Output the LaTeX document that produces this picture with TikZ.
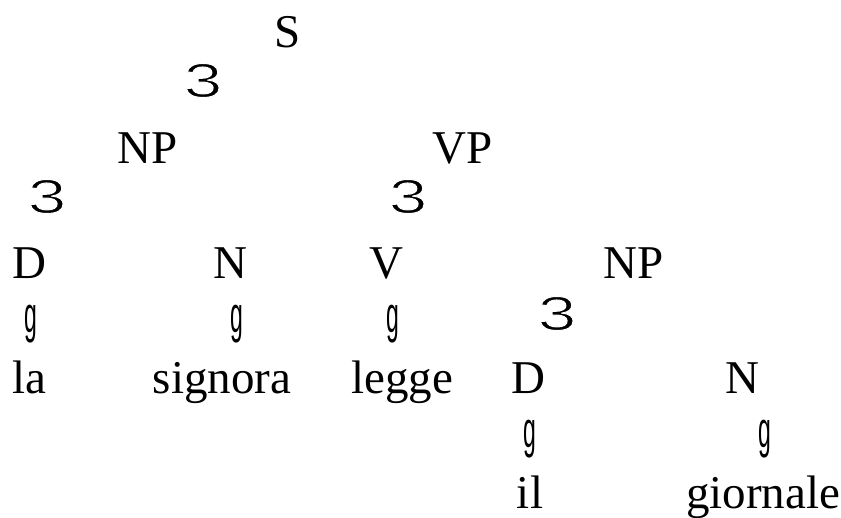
\documentclass[tikz,border=0pt]{standalone}
\usepackage{fontspec}
\setmainfont{Liberation Serif}
\newfontfamily\brfont{Liberation Sans}
\newfontfamily\vlfont{Liberation Sans}
\newcommand\thinthree{\special{pdf:literal direct 2 Tr 1 1 1 RG 1.0 w}3\special{pdf:literal direct 0 Tr 0 G}}
\begin{document}
\begin{tikzpicture}[x=1pt,y=-1pt,
  lbl/.style={anchor=base,inner sep=0pt,font=\fontsize{47}{47}\selectfont},
  br/.style={anchor=base,inner sep=0pt,font=\brfont\fontsize{48}{48}\selectfont},
  vl/.style={anchor=base,inner sep=0pt,font=\vlfont\fontsize{51}{51}\selectfont}]
\useasboundingbox (0,0) rectangle (841,517);
% row 1
\node[lbl] (S) at (288,47) {S};
\node[br] (b1) at (203,97) {\scalebox{1.45}[1]{\thinthree}};
% row 2
\node[lbl] (NP) at (148,163) {NP};
\node[lbl] (VP) at (463,163) {VP};
\node[br] (b2) at (47,213) {\scalebox{1.45}[1]{\thinthree}};
\node[br] (b3) at (408,213) {\scalebox{1.45}[1]{\thinthree}};
% row 3
\node[lbl] (D1) at (29,278) {D};
\node[lbl] (N1) at (230,278) {N};
\node[lbl] (V) at (386,278) {V};
\node[lbl] (NP2) at (634,278) {NP};
\node[vl] (g1) at (31,332) {\scalebox{0.45}[1]{g}};
\node[vl] (g2) at (237,332) {\scalebox{0.45}[1]{g}};
\node[vl] (g3) at (393,332) {\scalebox{0.45}[1]{g}};
\node[br] (b4) at (557,330) {\scalebox{1.45}[1]{\thinthree}};
% row 4
\node[lbl] (la) at (29,393) {la};
\node[lbl] (signora) at (222,393) {signora};
\node[lbl] (legge) at (402,393) {legge};
\node[lbl] (D2) at (528,393) {D};
\node[lbl] (N2) at (742,393) {N};
\node[vl] (g4) at (530,447) {\scalebox{0.45}[1]{g}};
\node[vl] (g5) at (765,447) {\scalebox{0.45}[1]{g}};
% row 5
\node[lbl] (il) at (530,508) {il};
\node[lbl] (giornale) at (763,508) {giornale};
\end{tikzpicture}
\end{document}
